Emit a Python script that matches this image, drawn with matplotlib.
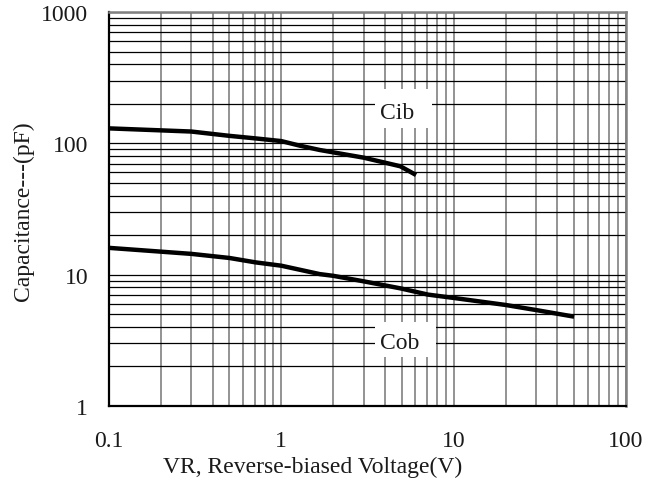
import numpy as np
import matplotlib
matplotlib.use('Agg')
import matplotlib.pyplot as plt
from matplotlib.patches import Rectangle
from matplotlib.ticker import LogLocator, NullFormatter, FixedLocator, FixedFormatter

plt.rcParams['font.family'] = 'Liberation Serif'

# input capacitance vs reverse voltage
vr_cib = [0.1, 0.3, 0.5, 0.71, 1.0, 1.28, 1.67, 3.0, 4.9, 6.05]
cib = [130, 123, 114, 109, 104, 96, 89, 77.8, 66.9, 57.4]

# output capacitance vs reverse voltage
vr_cob = [0.1, 0.3, 0.5, 0.71, 1.0, 1.67, 2.0, 3.0, 4.9, 7.1, 10, 20, 30, 50]
cob = [16.0, 14.4, 13.4, 12.4, 11.7, 10.1, 9.8, 8.9, 7.87, 7.05, 6.65, 5.88, 5.38, 4.79]

x_ticks = [0.1, 1, 10, 100]
x_ticklabels = ['0.1', '1', '10', '100']
y_ticks = [1, 10, 100, 1000]
y_ticklabels = ['1', '10', '100', '1000']

fs = 17
txt_c = '#1a1a1a'

fig = plt.figure(figsize=(6.57, 4.85), dpi=100)
ax = fig.add_axes([109 / 657, 1 - 407 / 485, 517 / 657, 394 / 485])

ax.plot(vr_cib, cib, color='black', linewidth=3.2, solid_capstyle='butt', zorder=3)
ax.plot(vr_cob, cob, color='black', linewidth=3.2, solid_capstyle='butt', zorder=3)

ax.set_xscale('log')
ax.set_yscale('log')
ax.set_xlim(0.1, 100)
ax.set_ylim(1, 1000)

ax.xaxis.set_major_locator(FixedLocator(x_ticks))
ax.xaxis.set_major_formatter(FixedFormatter(x_ticklabels))
ax.yaxis.set_major_locator(FixedLocator(y_ticks))
ax.yaxis.set_major_formatter(FixedFormatter(y_ticklabels))
ax.xaxis.set_minor_locator(LogLocator(base=10, subs=np.arange(2, 10)))
ax.yaxis.set_minor_locator(LogLocator(base=10, subs=np.arange(2, 10)))
ax.xaxis.set_minor_formatter(NullFormatter())
ax.yaxis.set_minor_formatter(NullFormatter())

ax.set_axisbelow(True)
ax.grid(True, axis='x', which='both', color='#808080', linewidth=1.2)
ax.grid(True, axis='y', which='both', color='black', linewidth=0.9)

ax.tick_params(which='both', length=0, labelsize=fs, labelcolor=txt_c)
ax.tick_params(axis='x', pad=17)
ax.tick_params(axis='y', pad=15)

for side in ['left', 'bottom']:
    ax.spines[side].set_color('black')
    ax.spines[side].set_linewidth(1.6)
for side in ['top', 'right']:
    ax.spines[side].set_color('#808080')
    ax.spines[side].set_linewidth(1.8)

# label boxes that blank out the grid behind the curve names
ax.add_patch(Rectangle((0.5145, 0.7056), 0.1103, 0.099, transform=ax.transAxes,
                       facecolor='white', edgecolor='none', zorder=1.5))
ax.add_patch(Rectangle((0.5145, 0.1244), 0.118, 0.0888, transform=ax.transAxes,
                       facecolor='white', edgecolor='none', zorder=1.5))
ax.text(0.524, 0.745, 'Cib', transform=ax.transAxes, fontsize=fs,
        ha='left', va='center', color=txt_c, zorder=4)
ax.text(0.524, 0.162, 'Cob', transform=ax.transAxes, fontsize=fs,
        ha='left', va='center', color=txt_c, zorder=4)

fig.text(313 / 657, 1 - 467 / 485, 'VR, Reverse-biased Voltage(V)', fontsize=fs,
         ha='center', va='center', color=txt_c)
fig.text(23 / 657, 1 - 211 / 485, 'Capacitance---(pF)', fontsize=fs,
         ha='center', va='center', rotation=90, color=txt_c)

fig.savefig('out.png', dpi=100)
